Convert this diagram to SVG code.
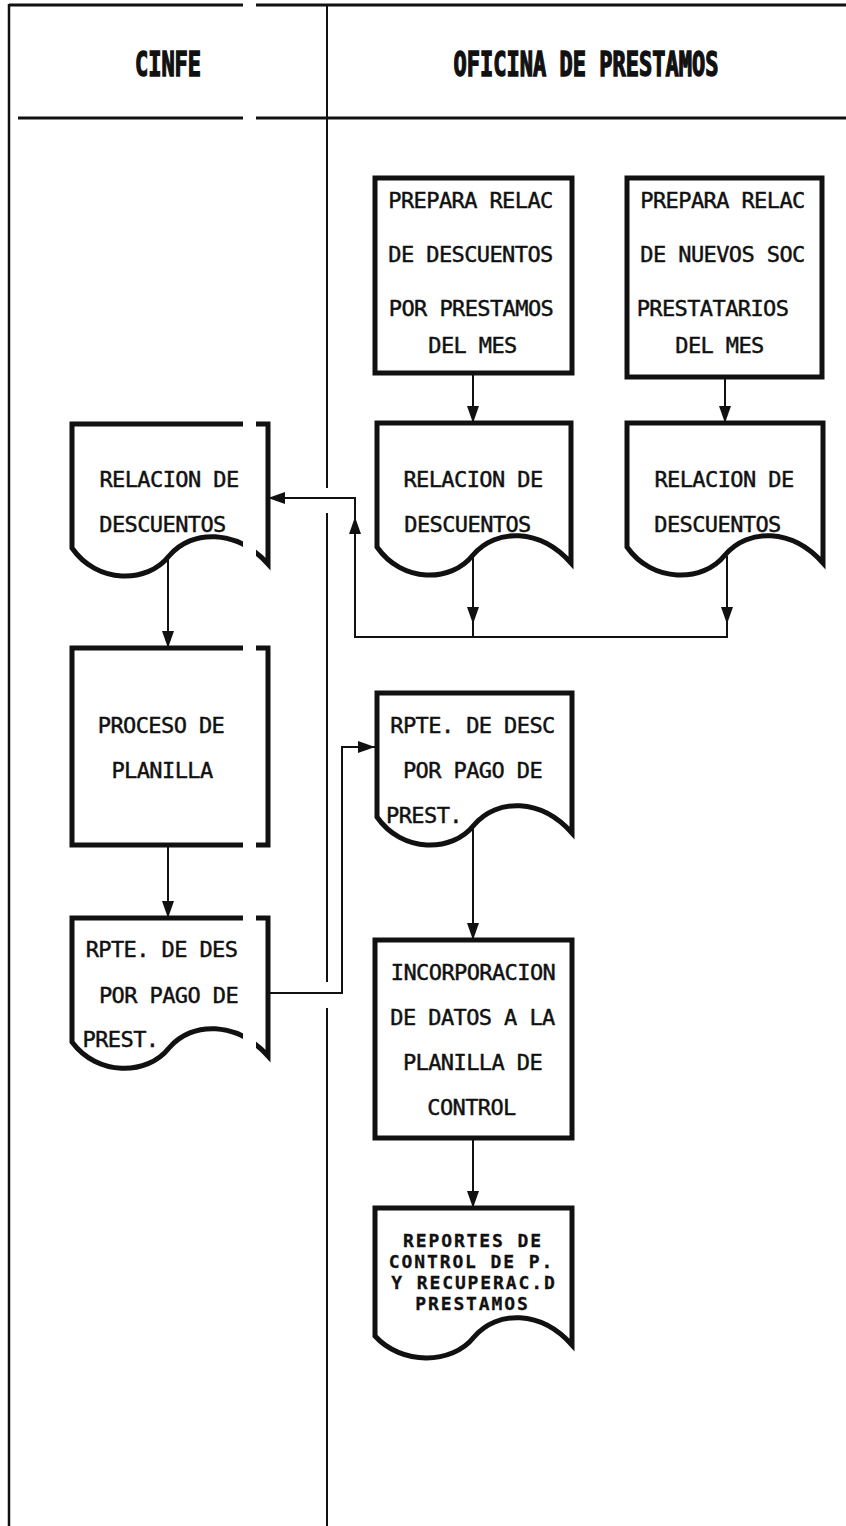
<svg xmlns="http://www.w3.org/2000/svg" width="846" height="1526" viewBox="0 0 846 1526">
  <style>
    .frame { stroke: #111; fill: none; }
    .shape { stroke: #111; stroke-width: 5; fill: none; stroke-linejoin: miter; stroke-linecap: square; }
    .conn { stroke: #111; stroke-width: 2; fill: none; }
    .lbl { font-family: "DejaVu Sans Mono", "Liberation Mono", monospace; font-size: 22px; letter-spacing: -0.6px; fill: #111; stroke: #111; stroke-width: 0.45; text-anchor: middle; }
    .lbls { font-weight: bold; font-size: 18px; letter-spacing: 1.9px; stroke-width: 0.3; }
    .head { font-family: "DejaVu Sans Mono", "Liberation Mono", monospace; font-weight: bold; font-size: 22px; fill: #111; stroke: #111; stroke-width: 1; text-anchor: middle; }
  </style>
  <defs>
    <marker id="ah" markerUnits="userSpaceOnUse" viewBox="0 0 18 12" markerWidth="18" markerHeight="12" refX="17" refY="6" orient="auto">
      <path d="M0,0 L17,6 L0,12 Z" fill="#111"/>
    </marker>
  </defs>
  <rect width="846" height="1526" fill="#fff"/>

  <!-- swimlane frame -->
  <g id="lanes">
    <line class="frame" x1="9" y1="5" x2="846" y2="5" stroke-width="3"/>
    <line class="frame" x1="18" y1="118" x2="846" y2="118" stroke-width="3"/>
    <line class="frame" x1="9" y1="4" x2="9" y2="1526" stroke-width="2.5"/>
    <path class="frame" d="M327,4 V488 M327,513 V982 M327,1008 V1526" stroke-width="2"/>
    <text class="head" transform="translate(168,76) scale(1,1.5)">CINFE</text>
    <text class="head" transform="translate(586,76) scale(1,1.5)">OFICINA DE PRESTAMOS</text>
  </g>

  <!-- CINFE lane -->
  <g id="doc-relacion-cinfe">
    <path class="shape" d="M72,548 V424 H268 V564 C237,529 192,529 169,556 C147,584 97,584 72,548 Z"/>
  </g>
  <g id="proc-planilla">
    <rect class="shape" x="72" y="648" width="196" height="197"/>
  </g>
  <g id="doc-rpte-cinfe">
    <path class="shape" d="M72,1042 V918 H268 V1056 C237,1021 192,1021 169,1048 C147,1076 97,1076 72,1042 Z"/>
  </g>

  <!-- OFICINA DE PRESTAMOS lane -->
  <g id="proc-relac-desc">
    <rect class="shape" x="375" y="178" width="197" height="195"/>
  </g>
  <g id="proc-relac-nuevos">
    <rect class="shape" x="627" y="178" width="195" height="199"/>
  </g>
  <g id="doc-relacion-1">
    <path class="shape" d="M377,547 V423 H571 V563 C540,528 496,528 473,555 C451,583 402,583 377,547 Z"/>
  </g>
  <g id="doc-relacion-2">
    <path class="shape" d="M627,547 V423 H823 V563 C792,528 748,528 725,555 C703,583 652,583 627,547 Z"/>
  </g>
  <g id="doc-rpte-desc">
    <path class="shape" d="M377,817 V693 H572 V833 C541,798 497,798 474,825 C452,853 402,853 377,817 Z"/>
  </g>
  <g id="proc-incorporacion">
    <rect class="shape" x="375" y="940" width="197" height="198"/>
  </g>
  <g id="doc-reportes">
    <path class="shape" d="M375,1336 V1208 H572 V1345 C541,1310 497,1310 474,1337 C452,1365 401,1365 375,1336 Z"/>
  </g>

  <!-- blank strip through the CINFE column -->
  <rect x="243" y="0" width="13" height="1100" fill="#fff"/>

  <!-- connectors -->
  <g id="connectors">
    <path class="conn" d="M473,373 V423" marker-end="url(#ah)"/>
    <path class="conn" d="M725,377 V423" marker-end="url(#ah)"/>
    <path class="conn" d="M473,556 V624" marker-end="url(#ah)"/>
    <path class="conn" d="M473,620 V637"/>
    <path class="conn" d="M727,556 V624" marker-end="url(#ah)"/>
    <path class="conn" d="M727,620 V637 H355 V498 H268" marker-end="url(#ah)"/>
    <path class="conn" d="M355,540 V517" marker-end="url(#ah)"/>
    <path class="conn" d="M168,556 V648" marker-end="url(#ah)"/>
    <path class="conn" d="M168,845 V918" marker-end="url(#ah)"/>
    <path class="conn" d="M268,993 H342 V747 H375" marker-end="url(#ah)"/>
    <path class="conn" d="M473,826 V940" marker-end="url(#ah)"/>
    <path class="conn" d="M473,1138 V1208" marker-end="url(#ah)"/>
  </g>

  <!-- labels -->
  <g id="labels">
    <text class="lbl" x="470.5" y="208">PREPARA RELAC</text>
    <text class="lbl" x="470.5" y="262">DE DESCUENTOS</text>
    <text class="lbl" x="471" y="316">POR PRESTAMOS</text>
    <text class="lbl" x="472.5" y="353">DEL MES</text>

    <text class="lbl" x="722.5" y="208">PREPARA RELAC</text>
    <text class="lbl" x="722.5" y="262">DE NUEVOS SOC</text>
    <text class="lbl" x="712.5" y="316">PRESTATARIOS</text>
    <text class="lbl" x="719.5" y="353">DEL MES</text>

    <text class="lbl" x="473" y="487">RELACION DE</text>
    <text class="lbl" x="467.5" y="532">DESCUENTOS</text>
    <text class="lbl" x="724" y="487">RELACION DE</text>
    <text class="lbl" x="717.5" y="532">DESCUENTOS</text>
    <text class="lbl" x="169" y="487">RELACION DE</text>
    <text class="lbl" x="162.5" y="532">DESCUENTOS</text>

    <text class="lbl" x="161" y="733">PROCESO DE</text>
    <text class="lbl" x="162" y="778">PLANILLA</text>

    <text class="lbl" x="161.5" y="957">RPTE. DE DES</text>
    <text class="lbl" x="168.5" y="1003">POR PAGO DE</text>
    <text class="lbl" x="120.5" y="1047">PREST.</text>

    <text class="lbl" x="472.5" y="733">RPTE. DE DESC</text>
    <text class="lbl" x="472.5" y="778">POR PAGO DE</text>
    <text class="lbl" x="424" y="823">PREST.</text>

    <text class="lbl" x="473" y="980">INCORPORACION</text>
    <text class="lbl" x="472.5" y="1025">DE DATOS A LA</text>
    <text class="lbl" x="472.5" y="1070">PLANILLA DE</text>
    <text class="lbl" x="471.5" y="1115">CONTROL</text>

    <text class="lbl lbls" x="473" y="1247">REPORTES DE</text>
    <text class="lbl lbls" x="471.5" y="1268">CONTROL DE P.</text>
    <text class="lbl lbls" x="474" y="1289">Y RECUPERAC.D</text>
    <text class="lbl lbls" x="472.5" y="1310">PRESTAMOS</text>
  </g>
</svg>
